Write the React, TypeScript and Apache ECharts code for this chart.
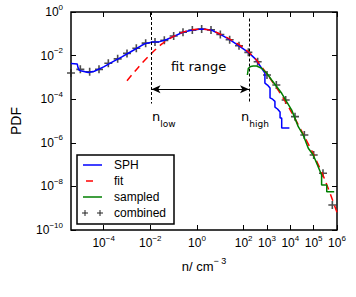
import React, { useEffect, useRef } from "react";
import * as echarts from "echarts";

// All values are log10 exponents (n in cm^-3, PDF)
const sphLogN = [-5.4, -5.13, -5.1, -5.06, -4.94, -4.66, -4.4, -4.0, -3.6, -3.2, -2.8, -2.4, -2.2, -1.9, -1.6, -1.3, -1.0, -0.6, -0.2, 0.2, 0.6, 1.0, 1.4, 1.8, 2.2, 2.5, 2.77, 2.91, 2.91, 3.02, 3.13, 3.13, 3.24, 3.34, 3.34, 3.45, 3.56, 3.56, 3.63, 3.63, 3.96];
const sphLogP = [-2.36, -2.39, -2.55, -2.66, -2.71, -2.78, -2.72, -2.52, -2.28, -2.05, -1.8, -1.55, -1.44, -1.38, -1.36, -1.26, -1.12, -0.93, -0.83, -0.78, -0.82, -1.03, -1.27, -1.55, -1.85, -2.15, -2.58, -2.8, -3.26, -3.35, -3.49, -3.94, -4.0, -4.1, -4.36, -4.45, -4.59, -4.86, -4.86, -5.32, -5.32];

const fitLogN = [-3.0, -2.5, -2.0, -1.5, -1.0, -0.5, 0.0, 0.5, 1.0, 1.5, 2.0, 2.5, 3.0, 3.5, 4.0, 4.5, 5.0, 5.5, 6.0];
const fitLogP = [-3.15, -2.52, -1.95, -1.46, -1.12, -0.89, -0.79, -0.82, -1.02, -1.3, -1.65, -2.15, -2.85, -3.62, -4.5, -5.5, -6.55, -7.75, -9.2];

const sampledLogN = [2.16, 2.2, 2.3, 2.41, 2.56, 2.77, 2.99, 3.2, 3.42, 3.63, 3.84, 4.06, 4.2, 4.34, 4.55, 4.77, 4.98, 5.13, 5.34, 5.34, 5.56, 5.56, 5.88];
const sampledLogP = [-2.89, -2.58, -2.5, -2.48, -2.48, -2.58, -2.81, -3.12, -3.43, -3.73, -4.11, -4.5, -4.88, -5.26, -5.64, -6.25, -6.56, -6.94, -7.48, -7.94, -7.94, -8.24, -8.24];

const combinedLogN = [-5.4, -5.0, -4.6, -4.2, -3.8, -3.4, -3.0, -2.6, -2.2, -1.8, -1.4, -1.0, -0.6, -0.2, 0.2, 0.6, 1.0, 1.4, 1.8, 2.2, 2.6, 3.0, 3.4, 3.8, 4.2, 4.6, 5.0, 5.4, 5.8];
const combinedLogP = [-2.8, -2.63, -2.74, -2.63, -2.35, -2.15, -1.9, -1.66, -1.43, -1.38, -1.3, -1.1, -0.93, -0.83, -0.78, -0.82, -1.03, -1.27, -1.55, -1.85, -2.28, -2.89, -3.35, -4.04, -4.8, -5.64, -6.56, -7.4, -8.85];

const xTickExps = [-4, -2, 0, 2, 3, 4, 5, 6];
const yTickExps = [-10, -8, -6, -4, -2, 0];
const xMinExp = -5.4;
const xMaxExp = 6;
const yMinExp = -10;
const yMaxExp = 0;

const nLowExp = -1.95;
const nHighExp = 2.23;
const rangeLineTopExp = 0;
const rangeLineBottomExp = -4.2;
const arrowExp = -3.54;

const p10 = (e: number) => Math.pow(10, e);
const pairs = (xs: number[], ys: number[]) => xs.map((x, i) => [p10(x), p10(ys[i])]);

const supLabel = (v: number) => {
  const e = Math.round(Math.log10(v));
  const s = e < 0 ? "\u2212" + String(-e) : String(e);
  return "{b|10}{s|" + s + "}";
};

const tickRich = {
  b: { fontSize: 12, lineHeight: 14, color: "#000", fontFamily: "Liberation Sans" },
  s: { fontSize: 8, lineHeight: 10, padding: [0, 0, 10, 0], color: "#000", fontFamily: "Liberation Sans" },
};

const plusPath = "path://M4,0 L6,0 L6,4 L10,4 L10,6 L6,6 L6,10 L4,10 L4,6 L0,6 L0,4 L4,4 Z";

export default function App() {
  const ref = useRef<HTMLDivElement>(null);
  useEffect(() => {
    if (!ref.current) return;
    const chart = echarts.init(ref.current, null, { renderer: "svg" });
    const xVals = xTickExps.map(p10);
    const yVals = yTickExps.map(p10);
    const baseX = {
      type: "log",
      logBase: 10,
      min: p10(xMinExp),
      max: p10(xMaxExp),
      axisLine: { show: false },
      splitLine: { show: false },
      axisTick: { show: true, inside: true, length: 5, customValues: xVals, lineStyle: { color: "#000", width: 1 } },
      minorTick: { show: false },
    };
    const baseY = {
      type: "log",
      logBase: 10,
      min: p10(yMinExp),
      max: p10(yMaxExp),
      axisLine: { show: false },
      splitLine: { show: false },
      axisTick: { show: true, inside: true, length: 5, customValues: yVals, lineStyle: { color: "#000", width: 1 } },
      minorTick: { show: false },
    };
    const legendFont = "12px 'Liberation Sans'";
    const option: any = {
      animation: false,
      backgroundColor: "#fff",
      grid: { left: 71, top: 12, width: 266, height: 218, show: true, borderColor: "#000", borderWidth: 1.5, backgroundColor: "transparent" },
      xAxis: [
        {
          ...baseX,
          position: "bottom",
          axisLabel: { show: true, margin: 6, customValues: xVals, formatter: supLabel, rich: tickRich },
          name: "n/ cm{s|\u2212 3}",
          nameLocation: "middle",
          nameGap: 27,
          nameTextStyle: {
            fontSize: 13,
            lineHeight: 16,
            color: "#000",
            fontFamily: "Liberation Sans",
            verticalAlign: "top",
            rich: { s: { fontSize: 9, lineHeight: 10, padding: [0, 0, 10, 0], color: "#000", fontFamily: "Liberation Sans" } },
          },
        },
        { ...baseX, position: "top", axisLabel: { show: false } },
      ],
      yAxis: [
        {
          ...baseY,
          position: "left",
          axisLabel: { show: true, margin: 8, customValues: yVals, formatter: supLabel, rich: tickRich },
          name: "PDF",
          nameLocation: "middle",
          nameGap: 48,
          nameTextStyle: { fontSize: 14, color: "#000", fontFamily: "Liberation Sans" },
        },
        { ...baseY, position: "right", axisLabel: { show: false } },
      ],
      series: [
        {
          name: "SPH",
          type: "line",
          data: pairs(sphLogN, sphLogP),
          showSymbol: false,
          symbol: "none",
          lineStyle: { color: "#0000ff", width: 1.5 },
          markLine: {
            silent: true,
            symbol: "none",
            label: { show: false },
            lineStyle: { color: "#000", width: 1, type: [3, 2] },
            data: [
              [{ coord: [p10(nLowExp), p10(rangeLineTopExp)] }, { coord: [p10(nLowExp), p10(rangeLineBottomExp)] }],
              [{ coord: [p10(nHighExp), p10(rangeLineTopExp - 0.3)] }, { coord: [p10(nHighExp), p10(rangeLineBottomExp)] }],
              [
                { coord: [p10(nLowExp), p10(arrowExp)], symbol: "arrow", symbolSize: [6, 9], lineStyle: { type: "solid", width: 1.2 } },
                { coord: [p10(nHighExp), p10(arrowExp)], symbol: "arrow", symbolSize: [6, 9] },
              ],
            ],
          },
        },
        {
          name: "fit",
          type: "line",
          data: pairs(fitLogN, fitLogP),
          showSymbol: false,
          symbol: "none",
          smooth: 0.3,
          lineStyle: { color: "#ff0000", width: 1.5, type: [7, 5] },
        },
        {
          name: "sampled",
          type: "line",
          data: pairs(sampledLogN, sampledLogP),
          showSymbol: false,
          symbol: "none",
          lineStyle: { color: "#007f00", width: 1.5 },
        },
        {
          name: "combined",
          type: "scatter",
          data: pairs(combinedLogN, combinedLogP),
          symbol: plusPath,
          symbolSize: 8,
          clip: false,
          itemStyle: { color: "#222" },
        },
      ],
      graphic: [
        { type: "text", left: 171, top: 60, style: { text: "fit range", font: "13px 'DejaVu Sans'", fill: "#000" } },
        {
          type: "text",
          left: 152,
          top: 110,
          style: {
            text: "{n|n}{sub|low}",
            rich: {
              n: { fontSize: 13, fontFamily: "DejaVu Sans", lineHeight: 18, verticalAlign: "top", fill: "#000" },
              sub: { fontSize: 9, fontFamily: "DejaVu Sans", lineHeight: 10, verticalAlign: "bottom", fill: "#000" },
            },
          },
        },
        {
          type: "text",
          left: 241,
          top: 110,
          style: {
            text: "{n|n}{sub|high}",
            rich: {
              n: { fontSize: 13, fontFamily: "DejaVu Sans", lineHeight: 18, verticalAlign: "top", fill: "#000" },
              sub: { fontSize: 9, fontFamily: "DejaVu Sans", lineHeight: 10, verticalAlign: "bottom", fill: "#000" },
            },
          },
        },
        // legend
        { type: "rect", shape: { x: 77, y: 155, width: 97, height: 69 }, style: { fill: "#fff", stroke: "#000", lineWidth: 1.5 }, z: 10 },
        { type: "line", shape: { x1: 83, y1: 165, x2: 102, y2: 165 }, style: { stroke: "#0000ff", lineWidth: 1.5 }, z: 11 },
        { type: "line", shape: { x1: 86, y1: 181, x2: 93, y2: 181 }, style: { stroke: "#ff0000", lineWidth: 1.5 }, z: 11 },
        { type: "line", shape: { x1: 83, y1: 197, x2: 102, y2: 197 }, style: { stroke: "#007f00", lineWidth: 1.5 }, z: 11 },
        { type: "line", shape: { x1: 82, y1: 213, x2: 88, y2: 213 }, style: { stroke: "#222", lineWidth: 1 }, z: 11 },
        { type: "line", shape: { x1: 85, y1: 210, x2: 85, y2: 216 }, style: { stroke: "#222", lineWidth: 1 }, z: 11 },
        { type: "line", shape: { x1: 97, y1: 213, x2: 103, y2: 213 }, style: { stroke: "#222", lineWidth: 1 }, z: 11 },
        { type: "line", shape: { x1: 100, y1: 210, x2: 100, y2: 216 }, style: { stroke: "#222", lineWidth: 1 }, z: 11 },
        { type: "text", x: 114, y: 165, style: { text: "SPH", font: legendFont, fill: "#000", textVerticalAlign: "middle" }, z: 11 },
        { type: "text", x: 114, y: 181, style: { text: "fit", font: legendFont, fill: "#000", textVerticalAlign: "middle" }, z: 11 },
        { type: "text", x: 114, y: 197, style: { text: "sampled", font: legendFont, fill: "#000", textVerticalAlign: "middle" }, z: 11 },
        { type: "text", x: 114, y: 213, style: { text: "combined", font: legendFont, fill: "#000", textVerticalAlign: "middle" }, z: 11 },
      ],
    };
    chart.setOption(option);
    return () => chart.dispose();
  }, []);
  return (
    <div
      ref={ref}
      style={{ position: "fixed", left: 0, top: 0, width: 356, height: 297, background: "#fff" }}
    />
  );
}
